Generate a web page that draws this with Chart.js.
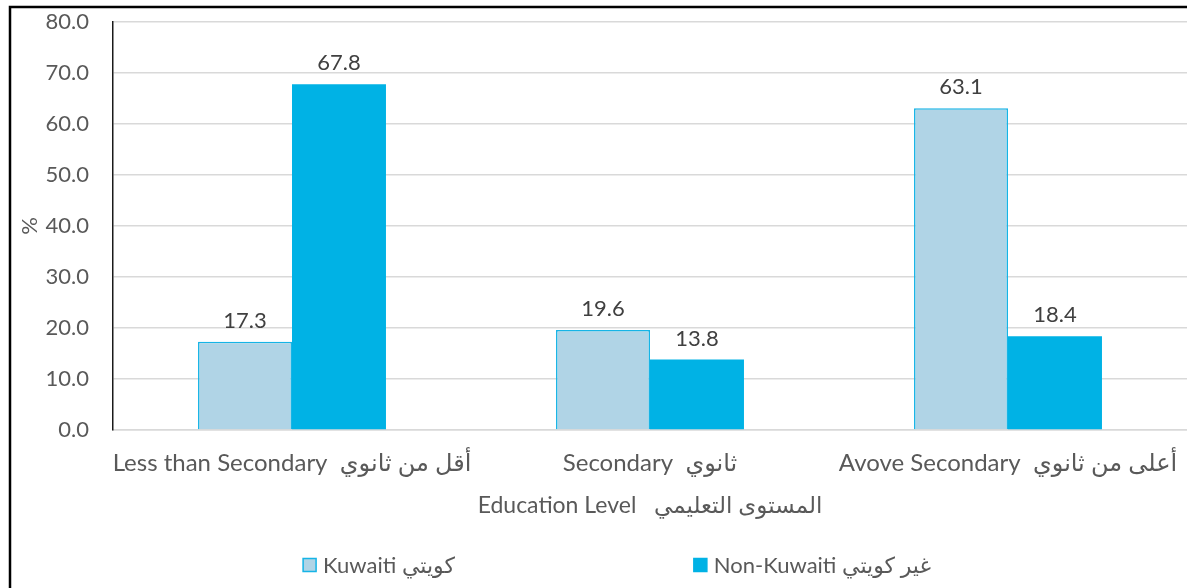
<!DOCTYPE html>
<html>
<head>
<meta charset="utf-8">
<script src="https://cdn.jsdelivr.net/npm/chart.js@4.4.1/dist/chart.umd.min.js"></script>
<style>
  html, body { margin: 0; padding: 0; background: #fff; overflow: hidden; }
  #wrap { position: relative; width: 1187px; height: 588px; }
  canvas { display: block; }
</style>
</head>
<body>
<div id="wrap"><canvas id="eduChart" width="1187" height="588"></canvas></div>
<script>
// data
const categories = ['Less than Secondary  أقل من ثانوي', 'Secondary  ثانوي', 'Avove Secondary  أعلى من ثانوي'];
const kuwaiti = [17.3, 19.6, 63.1];
const nonKuwaiti = [67.8, 13.8, 18.4];
const seriesNames = ['Kuwaiti كويتي', 'Non-Kuwaiti غير كويتي'];
const yTicks = [0, 10, 20, 30, 40, 50, 60, 70, 80];

const FONT = 'Lato, "DejaVu Sans", sans-serif';
const textGrey = '#595959';

// value labels above each bar
const valueLabels = {
    id: 'valueLabels',
    afterDatasetsDraw(chart) {
        const ctx = chart.ctx;
        ctx.save();
        ctx.font = '22px ' + FONT;
        ctx.fillStyle = '#404040';
        ctx.textAlign = 'center';
        ctx.textBaseline = 'middle';
        chart.data.datasets.forEach(function(ds, i) {
            chart.getDatasetMeta(i).data.forEach(function(bar, j) {
                ctx.fillText(ds.data[j].toFixed(1), bar.x, bar.y - 21);
            });
        });
        ctx.restore();
    }
};

// frame lines and the legend row at the bottom
const frameAndLegend = {
    id: 'frameAndLegend',
    afterDraw(chart) {
        const ctx = chart.ctx;
        ctx.save();
        ctx.strokeStyle = '#000';
        ctx.lineWidth = 2.5;
        ctx.beginPath();
        ctx.moveTo(10, chart.height);
        ctx.lineTo(10, 7);
        ctx.lineTo(chart.width, 7);
        ctx.stroke();

        ctx.font = '22px ' + FONT;
        ctx.textBaseline = 'middle';
        ctx.textAlign = 'left';
        const box = 13, gapBox = 7, gapItems = 239, y = 565;
        const items = chart.data.datasets.map(function(ds) {
            return { ds: ds, w: box + gapBox + ctx.measureText(ds.label).width };
        });
        const total = items.reduce(function(s, it) { return s + it.w; }, 0) + gapItems * (items.length - 1);
        let x = 617 - total / 2;
        items.forEach(function(it) {
            ctx.fillStyle = it.ds.backgroundColor;
            ctx.fillRect(x, y - box / 2, box, box);
            ctx.strokeStyle = it.ds.borderColor;
            ctx.lineWidth = 1.5;
            ctx.strokeRect(x, y - box / 2, box, box);
            ctx.fillStyle = textGrey;
            ctx.fillText(it.ds.label, x + box + gapBox, y + 1);
            x += it.w + gapItems;
        });
        ctx.restore();
    }
};

const ctx = document.getElementById('eduChart').getContext('2d');
const eduChart = new Chart(ctx, {
    type: 'bar',
    data: {
        labels: categories,
        datasets: [{
            label: seriesNames[0],
            data: kuwaiti,
            backgroundColor: '#B0D4E6',
            borderColor: '#16B4E6',
            borderWidth: 1.5
        }, {
            label: seriesNames[1],
            data: nonKuwaiti,
            backgroundColor: '#00B2E5',
            borderColor: '#00B2E5',
            borderWidth: 0
        }]
    },
    options: {
        responsive: false,
        animation: false,
        devicePixelRatio: 1,
        categoryPercentage: 0.525,
        barPercentage: 1,
        layout: { padding: { top: 22, left: 0, right: 0, bottom: 0 } },
        plugins: {
            legend: { display: false },
            tooltip: { enabled: false }
        },
        scales: {
            x: {
                grid: { display: false, drawTicks: false },
                border: { display: true, color: '#d9d9d9', width: 1.5 },
                ticks: { color: textGrey, font: { family: FONT, size: 24 }, padding: 19, maxRotation: 0, minRotation: 0, autoSkip: false },
                title: {
                    display: true,
                    text: 'Education Level   المستوى التعليمي',
                    color: textGrey,
                    font: { family: FONT, size: 23 },
                    padding: { top: 0, bottom: 69 }
                },
                afterFit(scale) {
                    scale.height = 158;
                    scale.paddingLeft = 0;
                    scale.paddingRight = 0;
                }
            },
            y: {
                min: 0,
                max: 80,
                afterBuildTicks(scale) { scale.ticks = yTicks.map(function(v) { return { value: v }; }); },
                grid: { color: '#d9d9d9', lineWidth: 1.5, drawTicks: false },
                border: { display: true, color: '#1a1a1a', width: 1.5 },
                ticks: {
                    color: textGrey,
                    font: { family: FONT, size: 22 },
                    padding: 24,
                    callback: function(v) { return Number(v).toFixed(1); }
                },
                title: {
                    display: true,
                    text: '%',
                    color: textGrey,
                    font: { family: FONT, size: 22 },
                    padding: { top: 17, bottom: 0 }
                },
                afterFit(scale) {
                    scale.width = 113;
                    scale.paddingTop = 0;
                    scale.paddingBottom = 0;
                }
            }
        }
    },
    plugins: [valueLabels, frameAndLegend]
});
</script>
</body>
</html>
